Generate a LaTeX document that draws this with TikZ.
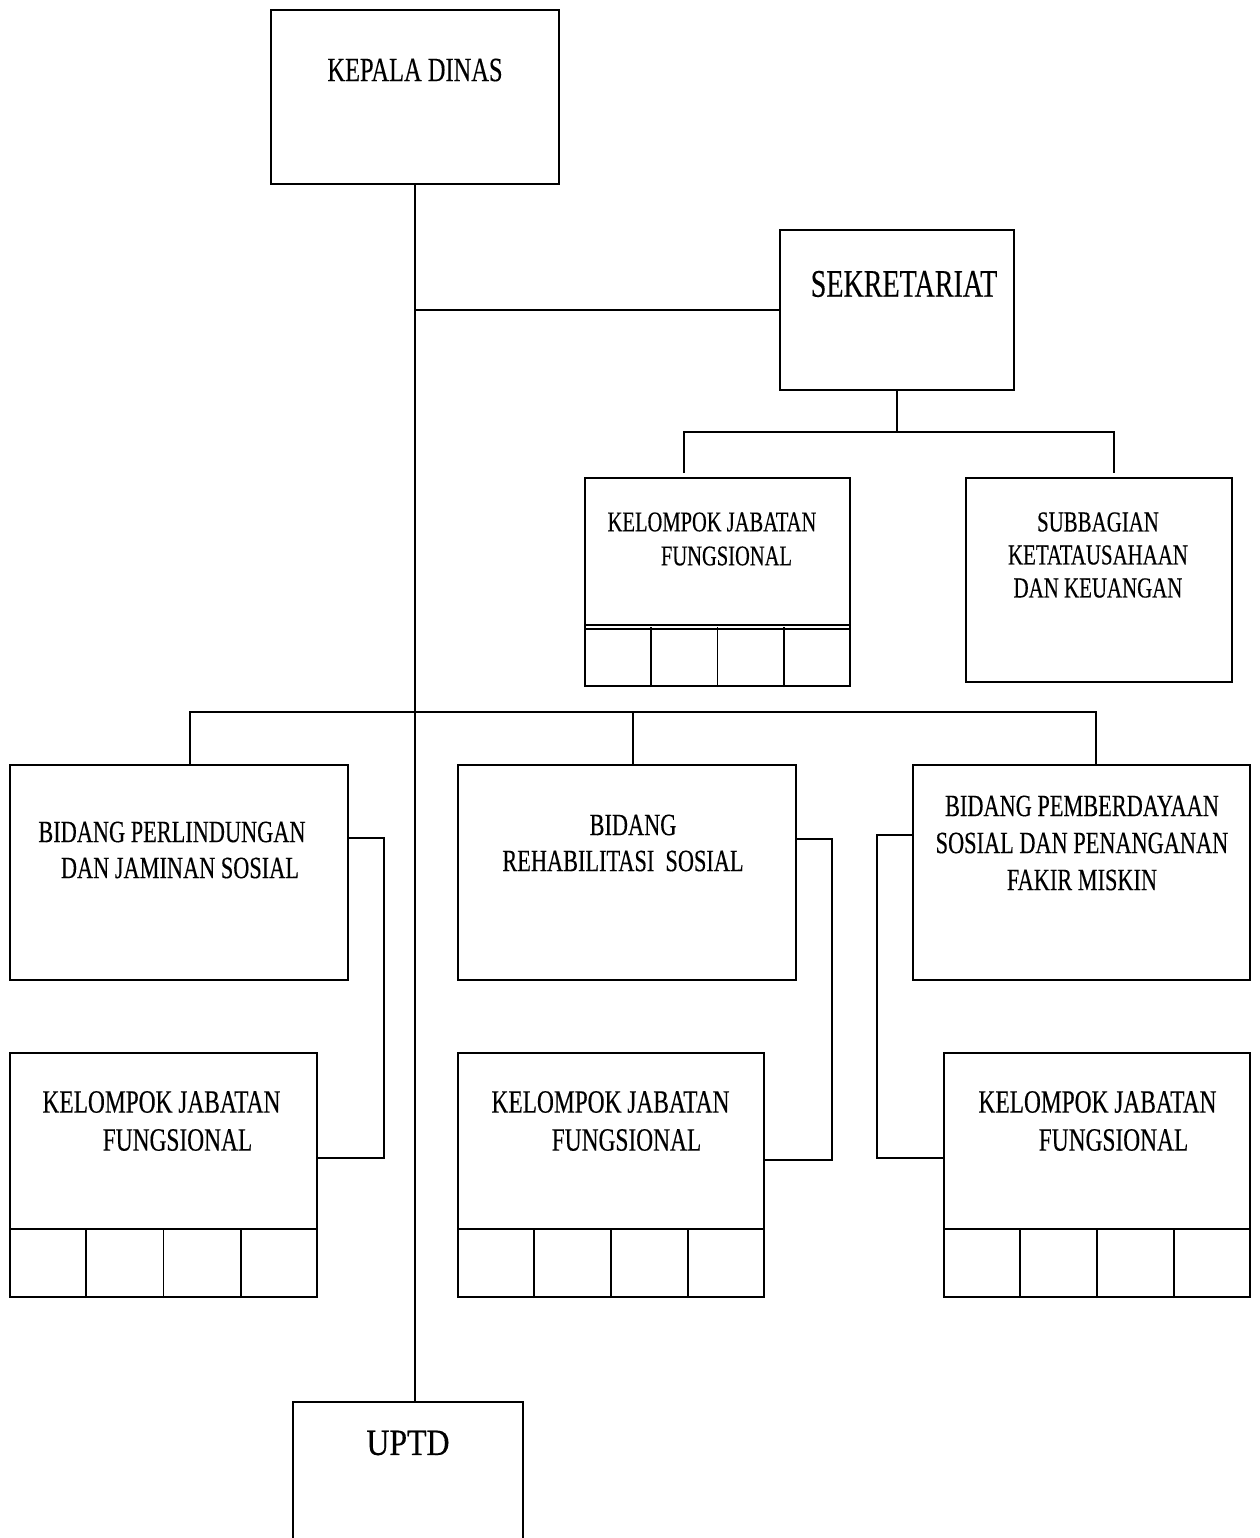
\documentclass[tikz,border=0pt]{standalone}
\usepackage{fontspec}
\setmainfont{Liberation Serif}[FakeStretch=0.72, FakeBold=0.3]
\newfontfamily\uptdfont{Liberation Serif}[FakeStretch=0.86, FakeBold=0.3]
\usepackage{tikz}
\usetikzlibrary{positioning,calc}

\begin{document}
\begin{tikzpicture}[
      x=1pt, y=-1pt,
      unitbox/.style={rectangle, draw, line width=2pt, inner sep=0pt},
      boxline/.style={line width=1.8pt},
      link/.style={line width=1.8pt},
      unittext/.style={align=center, inner sep=0pt}
    ]
      \useasboundingbox (0,0) rectangle (1259,1538);

      % Top level
      \node[unitbox, minimum width=288pt, minimum height=174pt] (kepala) at (415,97) {};
      \node[unitbox, minimum width=234pt, minimum height=160pt] (sek) at (897,310) {};
      \node[unitbox, minimum width=230pt, minimum height=156pt] (uptd) at (408,1480) {};

      % Under the secretariat
      \node[unitbox, minimum width=265pt, minimum height=208pt] (kjfS) at (717.5,582) {};
      \node[unitbox, minimum width=266pt, minimum height=204pt] (subbag) at (1099,580) {};

      % Fields
      \node[unitbox, minimum width=338pt, minimum height=215pt] (bpjs) at (179,872.5) {};
      \node[unitbox, minimum width=338pt, minimum height=215pt] (brs) at (627,872.5) {};
      \node[unitbox, minimum width=337pt, minimum height=215pt] (bps) at (1081.5,872.5) {};

      % Functional groups
      \node[unitbox, minimum width=307pt, minimum height=244pt] (kjf1) at (163.5,1175) {};
      \node[unitbox, minimum width=306pt, minimum height=244pt] (kjf2) at (611,1175) {};
      \node[unitbox, minimum width=306pt, minimum height=244pt] (kjf3) at (1097,1175) {};

      % Cells at the foot of the functional groups
      \foreach \kj in {kjf1,kjf2,kjf3} {
        \draw[boxline] ([yshift=69pt]\kj.south west) -- ([yshift=69pt]\kj.south east);
        \foreach \k in {1,2,3}
          \draw[boxline] ($(\kj.south west)!\k/4!(\kj.south east)$) -- ++(0,-69);
      }
      \draw[boxline] ([yshift=62pt]kjfS.south west) -- ([yshift=62pt]kjfS.south east);
      \draw[boxline] ([yshift=58pt]kjfS.south west) -- ([yshift=58pt]kjfS.south east);
      \foreach \k in {1,2,3}
        \draw[boxline] ($(kjfS.south west)!\k/4!(kjfS.south east)$) -- ++(0,-60);

      % Texts
      \node[unittext, font=\fontsize{34}{41}\selectfont] (kepalaText) at (415,70) {KEPALA DINAS};
      \node[unittext, font=\fontsize{39}{46}\selectfont] (sekText) at (904,284) {SEKRETARIAT};
      \node[unittext, font=\fontsize{28.5}{34}\selectfont] (kjfSText) at (712,539) {KELOMPOK JABATAN\\\hspace*{29pt}FUNGSIONAL};
      \node[unittext, font=\fontsize{29}{33}\selectfont] (subbagText) at (1098,555) {SUBBAGIAN\\KETATAUSAHAAN\\DAN KEUANGAN};
      \node[unittext, font=\fontsize{31}{36}\selectfont] (bpjsText) at (172,850) {BIDANG PERLINDUNGAN\\\hspace*{16pt}DAN JAMINAN SOSIAL};
      \node[unittext, font=\fontsize{31}{36}\selectfont] (brsText) at (623,843) {\hspace*{20pt}BIDANG\\REHABILITASI~ SOSIAL};
      \node[unittext, font=\fontsize{31}{37}\selectfont] (bpsText) at (1082,843) {BIDANG PEMBERDAYAAN\\SOSIAL DAN PENANGANAN\\FAKIR MISKIN};
      \node[unittext, font=\fontsize{32.5}{38}\selectfont] (kjf1Text) at (161.5,1121) {KELOMPOK JABATAN\\\hspace*{32pt}FUNGSIONAL};
      \node[unittext, font=\fontsize{32.5}{38}\selectfont] (kjf2Text) at (610.5,1121) {KELOMPOK JABATAN\\\hspace*{32pt}FUNGSIONAL};
      \node[unittext, font=\fontsize{32.5}{38}\selectfont] (kjf3Text) at (1097.5,1121) {KELOMPOK JABATAN\\\hspace*{32pt}FUNGSIONAL};
      \node[unittext, font=\uptdfont\fontsize{37}{44}\selectfont] (uptdText) at (408,1443) {UPTD};

      % Main line
      \coordinate (bus) at (415,712);
      \draw[link] (kepala.south) -- (kepala.south |- uptd.north);
      \draw[link] (kepala.south |- sek.west) -- (sek.west);

      % Secretariat branches
      \coordinate (sekbus) at (897,432);
      \draw[link] (sek.south) -- (sekbus);
      \draw[link] ([xshift=-33.5pt, yshift=4pt]kjfS.north) |- (sekbus) -| ([xshift=15pt, yshift=4pt]subbag.north);

      % Field branches
      \draw[link] ([xshift=11pt]bpjs.north) |- (bus) -| ([xshift=14.5pt]bps.north);
      \draw[link] ([xshift=6pt]brs.north) -- ([xshift=6pt]brs.north |- bus);

      % Field to functional group
      \draw[link] ([yshift=34.5pt]bpjs.east) -- ++(35,0) |- ([yshift=17pt]kjf1.east);
      \draw[link] ([yshift=33.5pt]brs.east) -- ++(35,0) |- ([yshift=15pt]kjf2.east);
      \draw[link] ([yshift=37.5pt]bps.west) -- ++(-35,0) |- ([yshift=17pt]kjf3.west);

    \end{tikzpicture}
\end{document}
